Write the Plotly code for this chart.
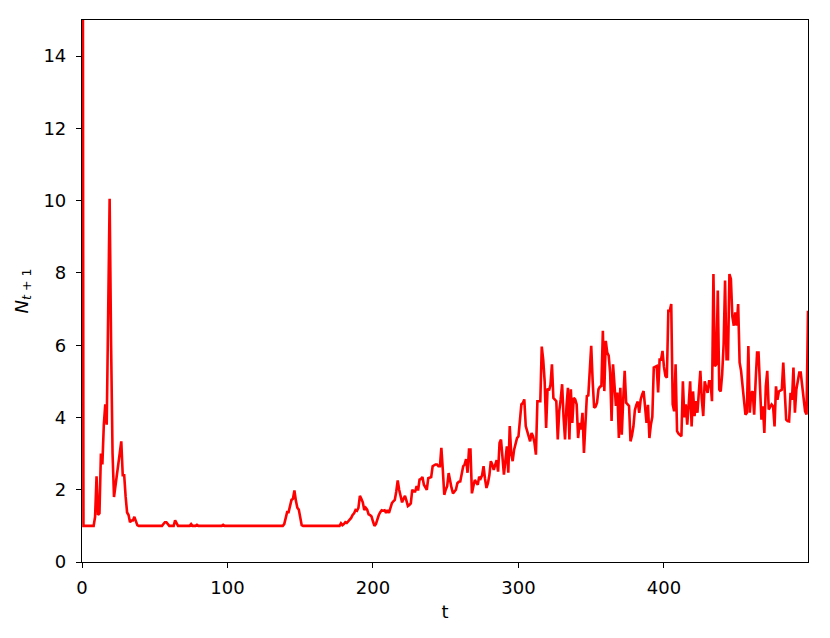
import plotly.graph_objects as go

# population series N_{t+1}, one value per step t = 0..499
n_0_49 = [
    40.0, 1.0, 1.0, 1.0, 1.0, 1.0, 1.0, 1.0, 1.0, 1.25,
    2.37, 1.3, 1.35, 3.0, 2.7, 3.8, 4.36, 3.8, 7.0, 10.05,
    6.0, 3.0, 1.8, 2.1, 2.4, 2.6, 2.9, 3.34, 2.4, 2.4,
    1.8, 1.37, 1.3, 1.1, 1.15, 1.15, 1.25, 1.1, 1.02, 1.0,
    1.0, 1.0, 1.0, 1.0, 1.0, 1.0, 1.0, 1.0, 1.0, 1.0,
]
n_50_99 = [
    1.0, 1.0, 1.0, 1.0, 1.0, 1.0, 1.05, 1.1, 1.1, 1.05,
    1.0, 1.0, 1.0, 1.0, 1.15, 1.05, 1.0, 1.0, 1.0, 1.0,
    1.0, 1.0, 1.0, 1.0, 1.0, 1.05, 1.0, 1.0, 1.0, 1.03,
    1.0, 1.0, 1.0, 1.0, 1.0, 1.0, 1.0, 1.0, 1.0, 1.0,
    1.0, 1.0, 1.0, 1.0, 1.0, 1.0, 1.0, 1.03, 1.0, 1.0,
]
n_100_149 = [
    1.0, 1.0, 1.0, 1.0, 1.0, 1.0, 1.0, 1.0, 1.0, 1.0,
    1.0, 1.0, 1.0, 1.0, 1.0, 1.0, 1.0, 1.0, 1.0, 1.0,
    1.0, 1.0, 1.0, 1.0, 1.0, 1.0, 1.0, 1.0, 1.0, 1.0,
    1.0, 1.0, 1.0, 1.0, 1.0, 1.0, 1.0, 1.0, 1.0, 1.05,
    1.2, 1.38, 1.38, 1.6, 1.72, 1.75, 1.98, 1.7, 1.5, 1.45,
]
n_150_199 = [
    1.2, 1.02, 1.0, 1.0, 1.0, 1.0, 1.0, 1.0, 1.0, 1.0,
    1.0, 1.0, 1.0, 1.0, 1.0, 1.0, 1.0, 1.0, 1.0, 1.0,
    1.0, 1.0, 1.0, 1.0, 1.0, 1.0, 1.0, 1.0, 1.07, 1.02,
    1.05, 1.1, 1.08, 1.12, 1.17, 1.22, 1.3, 1.35, 1.44, 1.42,
    1.5, 1.83, 1.75, 1.65, 1.44, 1.5, 1.45, 1.32, 1.3, 1.26,
]
n_200_249 = [
    1.12, 1.0, 1.05, 1.2, 1.3, 1.38, 1.43, 1.42, 1.43, 1.36,
    1.44, 1.36, 1.5, 1.63, 1.68, 1.72, 1.95, 2.26, 2.0, 1.85,
    1.65, 1.75, 1.83, 1.7, 1.55, 1.58, 1.62, 2.0, 1.95, 1.95,
    2.1, 1.98, 2.28, 2.3, 2.35, 2.14, 2.05, 2.0, 2.32, 2.33,
    2.35, 2.65, 2.68, 2.7, 2.7, 2.65, 2.65, 3.16, 2.55, 1.86,
]
n_250_299 = [
    2.0, 2.1, 2.46, 2.2, 2.05, 1.9, 1.95, 2.0, 2.18, 2.22,
    2.23, 2.4, 2.65, 2.7, 2.85, 2.47, 3.11, 3.11, 1.9, 2.1,
    2.27, 2.2, 2.14, 2.36, 2.31, 2.4, 2.65, 2.3, 2.05, 2.18,
    2.4, 2.79, 2.7, 2.55, 2.7, 2.82, 2.5, 3.3, 3.39, 2.9,
    2.42, 2.8, 3.2, 2.47, 3.76, 3.0, 2.79, 3.11, 3.3, 3.43,
]
n_300_349 = [
    3.48, 3.9, 4.36, 4.4, 4.5, 3.76, 3.6, 3.48, 3.34, 3.57,
    3.48, 3.3, 2.97, 4.45, 4.45, 4.45, 5.96, 5.6, 5.0, 3.71,
    4.8, 4.75, 4.9, 5.47, 4.54, 4.5, 4.45, 3.39, 4.17, 4.5,
    4.92, 4.0, 3.39, 4.3, 4.82, 3.39, 4.78, 3.85, 4.54, 4.5,
    4.36, 3.43, 3.85, 3.67, 4.13, 3.02, 4.0, 4.59, 4.61, 5.2,
]
n_350_399 = [
    5.98, 5.0, 4.27, 4.3, 4.41, 4.78, 4.85, 4.87, 6.4, 4.73,
    6.12, 5.8, 5.71, 5.25, 3.9, 5.47, 4.8, 4.32, 4.69, 3.43,
    4.82, 3.52, 4.5, 5.29, 4.41, 4.35, 4.32, 3.34, 3.5, 3.75,
    4.2, 4.35, 4.44, 4.13, 4.5, 4.64, 4.73, 4.3, 3.85, 4.35,
    3.43, 3.8, 4.02, 5.38, 5.4, 5.42, 4.69, 5.6, 5.6, 5.84,
]
n_400_449 = [
    5.4, 5.15, 5.1, 6.95, 6.95, 7.14, 4.36, 4.17, 5.47, 3.62,
    3.55, 3.52, 3.48, 5.0, 4.0, 4.36, 3.8, 4.36, 5.0, 3.75,
    4.72, 4.04, 4.45, 4.13, 4.6, 5.29, 4.5, 4.04, 5.0, 4.8,
    4.68, 5.0, 5.0, 4.45, 7.97, 5.42, 5.47, 7.51, 4.77, 4.72,
    5.2, 6.02, 7.79, 5.61, 5.61, 7.97, 7.83, 6.8, 6.54, 6.91,
]
n_450_499 = [
    6.54, 7.14, 5.52, 5.29, 4.91, 4.5, 4.08, 4.13, 5.98, 4.13,
    4.68, 4.72, 4.08, 5.0, 5.8, 5.8, 4.83, 3.94, 4.31, 3.57,
    4.86, 5.29, 4.22, 4.3, 4.36, 4.31, 3.75, 4.86, 4.49, 4.72,
    4.75, 4.77, 5.52, 4.86, 3.94, 3.9, 3.89, 4.68, 4.49, 5.38,
    4.13, 4.77, 5.0, 5.24, 5.24, 4.86, 4.4, 4.17, 4.08, 6.95,
]

n_next = (n_0_49 + n_50_99 + n_100_149 + n_150_199 + n_200_249
          + n_250_299 + n_300_349 + n_350_399 + n_400_449 + n_450_499)
t = list(range(len(n_next)))

x_ticks = [0, 100, 200, 300, 400]
y_ticks = [0, 2, 4, 6, 8, 10, 12, 14]

FONT = dict(family='DejaVu Sans', size=18, color='black')

fig = go.Figure()
fig.add_trace(go.Scatter(x=t, y=n_next, mode='lines',
                         line=dict(color='#ff0000', width=2.6),
                         showlegend=False))

axis_style = dict(showline=True, linecolor='black', linewidth=1.2, mirror=True,
                  ticks='outside', ticklen=5, tickwidth=1.2, tickcolor='black',
                  showgrid=False, zeroline=False, tickfont=FONT)

fig.update_xaxes(range=[0, 499], tickvals=x_ticks, ticklabelstandoff=4,
                 title=dict(text='t', font=FONT, standoff=8),
                 **axis_style)
fig.update_yaxes(range=[0, 15], tickvals=y_ticks, ticklabelstandoff=6,
                 title=dict(text='<i>N</i><sub><i>t</i> + 1</sub>', font=FONT, standoff=10),
                 **axis_style)

# page body has an 8px margin, so the figure is sized to fill the rest
fig.update_layout(width=822, height=630,
                  margin=dict(l=74, r=22, t=12, b=76),
                  paper_bgcolor='white', plot_bgcolor='white')

fig.write_html("out.html")
